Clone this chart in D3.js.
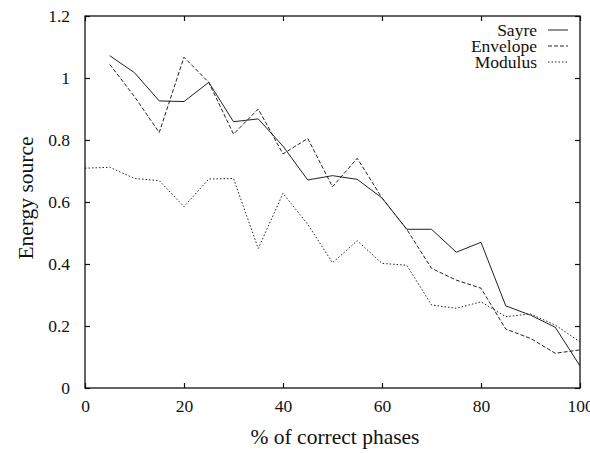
<!DOCTYPE html>
<html>
<head>
<meta charset="utf-8">
<script src="https://cdn.jsdelivr.net/npm/d3@7"></script>
<style>
  body { margin: 0; background: #fff; }
  svg text { font-family: "Liberation Serif", "DejaVu Serif", serif; fill: #111; }
</style>
</head>
<body>
<svg id="chart" width="590" height="453"></svg>
<script>
"use strict";

// % of correct phases
const phases = [0, 5, 10, 15, 20, 25, 30, 35, 40, 45, 50, 55, 60, 65, 70, 75, 80, 85, 90, 95, 100];

// energy source per method (null = no point)
const sayre = [null, 1.072, 1.017, 0.926, 0.924, 0.986, 0.859, 0.868, 0.78, 0.671, 0.685, 0.673,
  0.613, 0.512, 0.512, 0.438, 0.47, 0.265, 0.235, 0.196, 0.071];
const envelope = [null, 1.044, 0.94, 0.824, 1.067, 0.986, 0.819, 0.9, 0.755, 0.805, 0.649, 0.741,
  0.613, 0.512, 0.386, 0.348, 0.322, 0.19, 0.16, 0.112, 0.123];
const modulus = [0.709, 0.712, 0.676, 0.669, 0.585, 0.674, 0.676, 0.45, 0.628, 0.528, 0.404, 0.475,
  0.402, 0.396, 0.268, 0.257, 0.278, 0.23, 0.239, 0.203, 0.149];

const xTicks = [0, 20, 40, 60, 80, 100];
const yTicks = [0, 0.2, 0.4, 0.6, 0.8, 1, 1.2];

const series = [
  { name: 'Sayre', values: sayre, dash: null },
  { name: 'Envelope', values: envelope, dash: '4,2' },
  { name: 'Modulus', values: modulus, dash: '1.5,2' }
];

const margin = { top: 16, right: 10, bottom: 65, left: 85 };
const width = 590, height = 453;

const svg = d3.select('#chart');

const x = d3.scaleLinear().domain([0, 100]).range([margin.left, width - margin.right]);
const y = d3.scaleLinear().domain([0, 1.2]).range([height - margin.bottom, margin.top]);

const tickLen = 5;

// bottom / top ticks
svg.append('g')
  .attr('transform', `translate(0,${y(0)})`)
  .call(d3.axisBottom(x).tickValues(xTicks).tickSizeInner(-tickLen).tickSizeOuter(0).tickPadding(12))
  .call((g) => g.select('.domain').remove())
  .call((g) => g.selectAll('text').attr('font-size', 17.5).attr('dy', '0.71em'));

svg.append('g')
  .attr('transform', `translate(0,${y(1.2)})`)
  .call(d3.axisTop(x).tickValues(xTicks).tickSizeInner(-tickLen).tickSizeOuter(0).tickFormat(''))
  .call((g) => g.select('.domain').remove());

// left / right ticks
svg.append('g')
  .attr('transform', `translate(${x(0)},0)`)
  .call(d3.axisLeft(y).tickValues(yTicks).tickSizeInner(-tickLen).tickSizeOuter(0).tickPadding(15)
    .tickFormat(d3.format('~g')))
  .call((g) => g.select('.domain').remove())
  .call((g) => g.selectAll('text').attr('font-size', 17.5));

svg.append('g')
  .attr('transform', `translate(${x(100)},0)`)
  .call(d3.axisRight(y).tickValues(yTicks).tickSizeInner(-tickLen).tickSizeOuter(0).tickFormat(''))
  .call((g) => g.select('.domain').remove());

svg.selectAll('.tick line').attr('stroke', '#111').attr('stroke-width', 1.2);

// frame
svg.append('rect')
  .attr('x', x(0))
  .attr('y', y(1.2))
  .attr('width', x(100) - x(0))
  .attr('height', y(0) - y(1.2))
  .attr('fill', 'none')
  .attr('stroke', '#111')
  .attr('stroke-width', 1.3);

// lines
const line = d3.line()
  .defined((d) => d[1] != null)
  .x((d) => x(d[0]))
  .y((d) => y(d[1]));

series.forEach((s) => {
  svg.append('path')
    .datum(phases.map((p, i) => [p, s.values[i]]))
    .attr('d', line)
    .attr('fill', 'none')
    .attr('stroke', '#222')
    .attr('stroke-width', 1)
    .attr('stroke-dasharray', s.dash);
});

// legend
const legend = svg.append('g').attr('transform', 'translate(537,30)');
series.forEach((s, i) => {
  let row = legend.append('g').attr('transform', `translate(0,${i * 16})`);
  row.append('text')
    .attr('text-anchor', 'end')
    .attr('dy', '0.33em')
    .attr('font-size', 17.5)
    .text(s.name);
  row.append('line')
    .attr('x1', 11).attr('x2', 31)
    .attr('stroke', '#222')
    .attr('stroke-width', 1)
    .attr('stroke-dasharray', s.dash);
});

// axis titles
svg.append('text')
  .attr('x', 335)
  .attr('y', 436)
  .attr('text-anchor', 'middle')
  .attr('dy', '0.35em')
  .attr('font-size', 21.5)
  .text('% of correct phases');

svg.append('text')
  .attr('transform', 'translate(25,198) rotate(-90)')
  .attr('text-anchor', 'middle')
  .attr('dy', '0.35em')
  .attr('font-size', 21.5)
  .text('Energy source');
</script>
</body>
</html>
